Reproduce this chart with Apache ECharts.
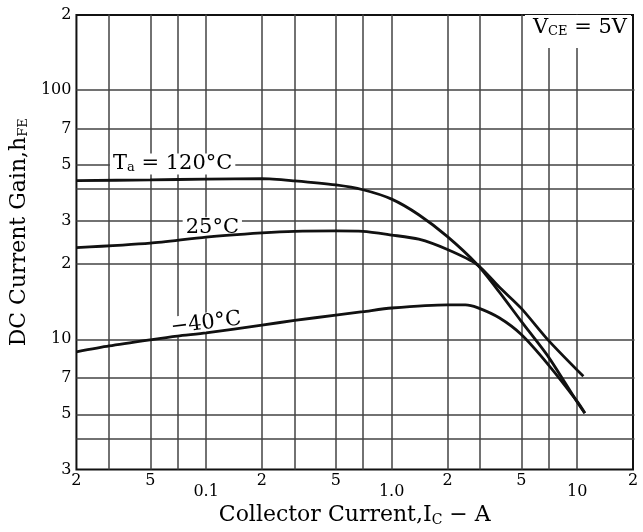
<!DOCTYPE html>
<html>
<head>
<meta charset="utf-8">
<script src="https://cdn.jsdelivr.net/npm/echarts@6/dist/echarts.min.js"></script>
<style>
html, body { margin: 0; padding: 0; background: #fff; }
#chart { width: 643px; height: 532px; }
</style>
</head>
<body>
<div id="chart"></div>
<script>
// axis ticks / labels
const xTickValues = [0.02, 0.05, 0.1, 0.2, 0.5, 1, 2, 5, 10, 20];
const xTickLabels = ['2', '5', '0.1', '2', '5', '1.0', '2', '5', '10', '2'];
const xGridValues = [0.03, 0.05, 0.07, 0.1, 0.2, 0.3, 0.5, 0.7, 1, 2, 3, 5, 7, 10];
const yTickValues = [3, 5, 7, 10, 20, 30, 50, 70, 100, 200];
const yTickLabels = ['3', '5', '7', '10', '2', '3', '5', '7', '100', '2'];
const yGridValues = [4, 5, 7, 10, 20, 30, 40, 50, 70, 100];

// Ta = 120°C
const ic120 = [0.02, 0.05, 0.1, 0.2, 0.3, 0.5, 0.7, 1.0, 1.4, 2.0, 2.9, 3.8, 5.0, 7.0, 10, 11];
const hfe120 = [43.3, 43.6, 43.9, 44.1, 43.2, 41.6, 39.8, 36.5, 31.6, 25.8, 19.9, 15.5, 11.8, 8.5, 5.6, 5.05];
// 25°C
const ic25 = [0.02, 0.05, 0.1, 0.2, 0.3, 0.5, 0.7, 1.0, 1.4, 2.0, 2.9, 3.8, 5.0, 7.0, 10.8];
const hfe25 = [23.3, 24.3, 25.7, 26.7, 27.1, 27.2, 27.1, 26.2, 25.2, 22.9, 19.9, 16.2, 13.3, 9.9, 7.1];
// -40°C
const icM40 = [0.02, 0.03, 0.05, 0.07, 0.1, 0.2, 0.3, 0.5, 0.7, 1.0, 2.0, 2.5, 2.9, 3.8, 5.0, 7.0, 10, 11];
const hfeM40 = [8.9, 9.4, 9.95, 10.3, 10.6, 11.4, 11.9, 12.5, 12.9, 13.35, 13.75, 13.75, 13.4, 12.2, 10.45, 7.9, 5.63, 5.06];

const serif = 'DejaVu Serif';

function pick(values, labels, v) {
  let best = 0;
  for (let i = 1; i < values.length; i++) {
    if (Math.abs(Math.log(values[i] / v)) < Math.abs(Math.log(values[best] / v))) best = i;
  }
  return labels[best];
}

function pairs(xs, ys) {
  return xs.map((x, i) => [x, ys[i]]);
}

const subStyle = { fontFamily: serif, fontSize: 13, color: '#000', verticalAlign: 'bottom', padding: [8, 0, 0, 0] };
const mainStyle = { fontFamily: serif, fontSize: 21, color: '#000' };

function curve(name, data, label) {
  return {
    name: name,
    type: 'line',
    data: data,
    showSymbol: false,
    smooth: 0.25,
    lineStyle: { color: '#111', width: 2.8 },
    silent: true,
    markPoint: {
      z: 1,
      symbol: 'rect',
      symbolSize: 1,
      itemStyle: { color: 'transparent' },
      data: [{
        coord: label.coord,
        label: {
          show: true,
          position: 'inside',
          formatter: label.text,
          rotate: label.rotate || 0,
          backgroundColor: '#fff',
          padding: [0, 3, 0, 3],
          rich: { m: mainStyle, s: subStyle }
        }
      }]
    }
  };
}

const chart = echarts.init(document.getElementById('chart'), null, { renderer: 'canvas' });

chart.setOption({
  animation: false,
  backgroundColor: '#fff',
  grid: { left: 75, top: 15, right: 10, bottom: 62, show: true, borderColor: '#111', borderWidth: 2, backgroundColor: 'transparent' },
  xAxis: {
    type: 'log',
    logBase: 10,
    min: 0.02,
    max: 20,
    name: 'Collector Current,I{s|C} − A',
    nameLocation: 'middle',
    nameGap: 30,
    nameTextStyle: {
      fontFamily: serif, fontSize: 22, color: '#000',
      rich: { s: { fontFamily: serif, fontSize: 14, color: '#000', verticalAlign: 'bottom', padding: [9, 0, 0, 0] } }
    },
    axisLine: { show: false },
    splitLine: { show: false },
    minorTick: { show: false },
    axisTick: { show: true, inside: true, length: 455, customValues: xGridValues, lineStyle: { color: '#444', width: 1.5 } },
    axisLabel: {
      customValues: xTickValues,
      margin: 3,
      fontFamily: serif, fontSize: 16, color: '#000',
      formatter: function (v) {
        const s = pick(xTickValues, xTickLabels, v);
        return (s === '0.1' || s === '1.0' || s === '10') ? '{d|' + s + '}' : '{n|' + s + '}';
      },
      rich: {
        n: { fontFamily: serif, fontSize: 16, color: '#000' },
        d: { fontFamily: serif, fontSize: 16, color: '#000', padding: [11, 0, 0, 0] }
      }
    }
  },
  yAxis: {
    type: 'log',
    logBase: 10,
    min: 3,
    max: 200,
    name: 'DC Current Gain,h{s|FE}',
    nameLocation: 'middle',
    nameGap: 38,
    nameTextStyle: {
      fontFamily: serif, fontSize: 22, color: '#000',
      padding: [0, 0, 0, 20],
      rich: { s: { fontFamily: serif, fontSize: 13, color: '#000', verticalAlign: 'bottom', padding: [9, 0, 0, 0] } }
    },
    axisLine: { show: false },
    splitLine: { show: false },
    minorTick: { show: false },
    axisTick: { show: true, inside: true, length: 558, customValues: yGridValues, lineStyle: { color: '#444', width: 1.5 } },
    axisLabel: {
      customValues: yTickValues,
      margin: 5,
      fontFamily: serif, fontSize: 16, color: '#000',
      formatter: function (v) { return pick(yTickValues, yTickLabels, v); }
    }
  },
  graphic: [{
    type: 'text',
    right: 12,
    top: 15,
    z: 100,
    style: {
      text: '{m|V}{s|CE}{m| = 5V}',
      backgroundColor: '#fff',
      padding: [2, 4, 10, 8],
      rich: { m: mainStyle, s: subStyle }
    }
  }],
  series: [
    curve('Ta=120°C', pairs(ic120, hfe120), { coord: [0.066, 50.5], text: '{m|T}{s|a}{m| = 120°C}' }),
    curve('25°C', pairs(ic25, hfe25), { coord: [0.108, 28], text: '{m|25°C}' }),
    curve('-40°C', pairs(icM40, hfeM40), { coord: [0.1, 11.6], text: '{m|−40°C}', rotate: 7 })
  ]
});
</script>
</body>
</html>
